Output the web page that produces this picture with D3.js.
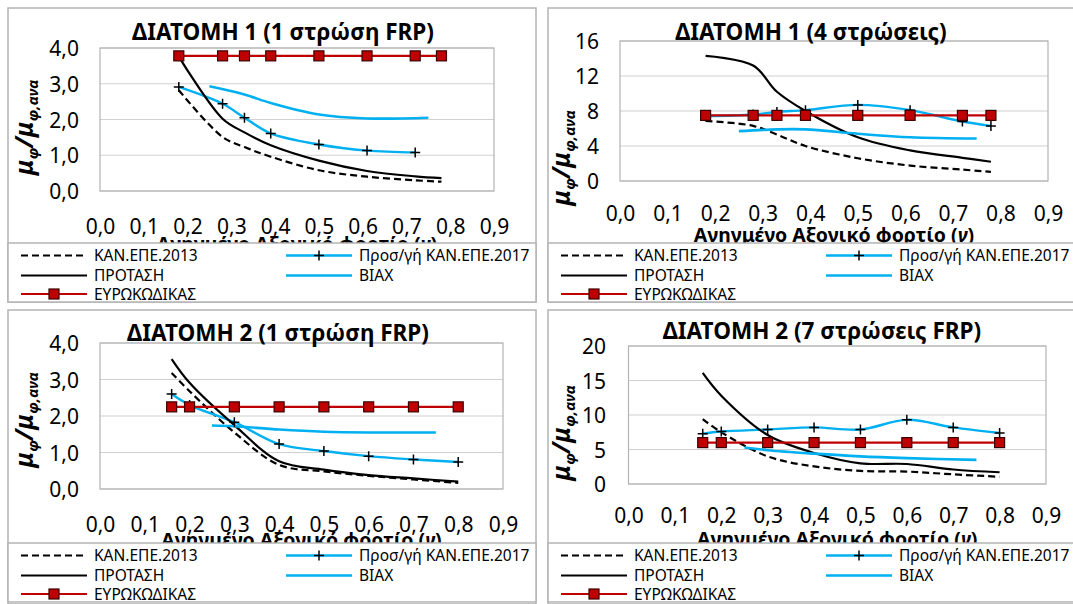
<!DOCTYPE html>
<html>
<head>
<meta charset="utf-8">
<script src="https://cdn.jsdelivr.net/npm/d3@7/dist/d3.min.js"></script>
<style>
  body { margin: 0; background: #fff; }
  svg { display: block; font-family: "Noto Sans", sans-serif; }
</style>
</head>
<body>
<div id="vis"></div>
<script>
// ---------------- datos ----------------
const SERIES_NAMES = ["ΚΑΝ.ΕΠΕ.2013", "Προσ/γή ΚΑΝ.ΕΠΕ.2017", "ΠΡΟΤΑΣΗ", "ΒΙΑΧ", "ΕΥΡΩΚΩΔΙΚΑΣ"];
const TITLES = ["ΔΙΑΤΟΜΗ 1 (1 στρώση FRP)", "ΔΙΑΤΟΜΗ 1 (4 στρώσεις)", "ΔΙΑΤΟΜΗ 2 (1 στρώση FRP)", "ΔΙΑΤΟΜΗ 2 (7 στρώσεις FRP)"];
const X_TITLE = "Ανηγμένο Αξονικό φορτίο (";
const X_TICKS = [0, 0.1, 0.2, 0.3, 0.4, 0.5, 0.6, 0.7, 0.8, 0.9];

// axonika fortia
const NU_SEC1 = [0.18, 0.28, 0.33, 0.39, 0.5, 0.61, 0.72, 0.78];
const NU_SEC2 = [0.16, 0.2, 0.3, 0.4, 0.5, 0.6, 0.7, 0.8];
const NU_BIAX1 = [0.25, 0.33, 0.39, 0.5, 0.61, 0.75];
const NU_BIAX2 = [0.25, 0.3, 0.4, 0.5, 0.6, 0.75];

// diatomi 1, 1 strosi
const KAN13_P1 = [2.82, 1.51, 1.23, 0.96, 0.58, 0.40, 0.30, 0.26];
const KAN17_P1 = [2.91, 2.44, 2.05, 1.61, 1.30, 1.13, 1.08];
const PROT_P1 = [3.76, 2.02, 1.64, 1.28, 0.85, 0.56, 0.41, 0.36];
const BIAX_P1 = [2.93, 2.70, 2.46, 2.14, 2.03, 2.05];
const EURO_P1 = [3.78, 3.78, 3.78, 3.78, 3.78, 3.78, 3.78, 3.78];

// diatomi 1, 4 stroseis
const KAN13_P2 = [6.86, 6.30, 5.30, 4.00, 2.60, 1.76, 1.30, 1.05];
const KAN17_P2 = [7.40, 7.60, 7.90, 8.10, 8.70, 8.10, 6.80, 6.30];
const PROT_P2 = [14.3, 13.2, 10.2, 8.0, 5.0, 3.5, 2.65, 2.2];
const BIAX_P2 = [5.70, 5.90, 5.90, 5.40, 5.00, 4.85];
const EURO_P2 = [7.5, 7.5, 7.5, 7.5, 7.5, 7.5, 7.5, 7.5];

// diatomi 2, 1 strosi
const KAN13_P3 = [3.18, 2.68, 1.55, 0.66, 0.48, 0.36, 0.26, 0.17];
const KAN17_P3 = [2.60, 2.30, 1.83, 1.23, 1.04, 0.90, 0.81, 0.74];
const PROT_P3 = [3.56, 2.91, 1.75, 0.76, 0.53, 0.38, 0.29, 0.20];
const BIAX_P3 = [1.74, 1.72, 1.63, 1.57, 1.55, 1.55];
const EURO_P3 = [2.25, 2.25, 2.25, 2.25, 2.25, 2.25, 2.25, 2.25];

// diatomi 2, 7 stroseis
const KAN13_P4 = [9.4, 7.5, 4.0, 2.55, 1.9, 1.8, 1.4, 1.05];
const KAN17_P4 = [7.3, 7.6, 7.9, 8.2, 7.9, 9.3, 8.2, 7.4];
const PROT_P4 = [16.1, 12.8, 7.1, 4.5, 3.0, 2.9, 2.1, 1.7];
const BIAX_P4 = [5.3, 4.9, 4.4, 4.0, 3.75, 3.5];
const EURO_P4 = [6, 6, 6, 6, 6, 6, 6, 6];

const Y_TICKS = [[0, 1, 2, 3, 4], [0, 4, 8, 12, 16], [0, 1, 2, 3, 4], [0, 5, 10, 15, 20]];
const Y_DECIMALS = [1, 0, 1, 0];

// ---------------- estilo / posiciones ----------------
const COLORS = { black: "#000", blue: "#00B0F0", red: "#C00000", grid: "#D0D0D0", frame: "#B4B4B4" };

const W = 1073, H = 604;
const SVG = d3.select("#vis").append("svg").attr("width", W).attr("height", H);

// cada panel en coords relativas a su origen
const LAYOUT = [
  { ox: 8, oy: 8, plot: { l: 92, r: 486, t: 40, b: 183 }, tx: 275, ty: 31.6, xTickY: 226, xTitleY: 243, yTickX: 71, yT: [24.7, 119.5], legY: 235 },
  { ox: 548, oy: 8, plot: { l: 72, r: 500, t: 33, b: 173 }, tx: 263, ty: 32.4, xTickY: 213, xTitleY: 233.5, yTickX: 51, yT: [22, 150], legY: 235 },
  { ox: 8, oy: 310, plot: { l: 92, r: 495, t: 33, b: 179 }, tx: 270, ty: 30.6, xTickY: 222, xTitleY: 237, yTickX: 71, yT: [24.7, 110], legY: 233 },
  { ox: 548, oy: 310, plot: { l: 80.5, r: 498, t: 36, b: 174 }, tx: 274, ty: 29.4, xTickY: 212.6, xTitleY: 236, yTickX: 58, yT: [22, 123], legY: 233 },
];
const PANEL_W = 528, PANEL_H = 294, LEG_H = 59;

// tabla de series por panel
function zip(xs, ys) { return ys.map((v, i) => [xs[i], v]); }
const PANELS = [
  [zip(NU_SEC1, KAN13_P1), zip(NU_SEC1, KAN17_P1), zip(NU_SEC1, PROT_P1), zip(NU_BIAX1, BIAX_P1), zip(NU_SEC1, EURO_P1)],
  [zip(NU_SEC1, KAN13_P2), zip(NU_SEC1, KAN17_P2), zip(NU_SEC1, PROT_P2), zip(NU_BIAX1, BIAX_P2), zip(NU_SEC1, EURO_P2)],
  [zip(NU_SEC2, KAN13_P3), zip(NU_SEC2, KAN17_P3), zip(NU_SEC2, PROT_P3), zip(NU_BIAX2, BIAX_P3), zip(NU_SEC2, EURO_P3)],
  [zip(NU_SEC2, KAN13_P4), zip(NU_SEC2, KAN17_P4), zip(NU_SEC2, PROT_P4), zip(NU_BIAX2, BIAX_P4), zip(NU_SEC2, EURO_P4)],
];

const STYLES = [
  { stroke: COLORS.black, dash: "7,4", width: 2.2, marker: null },
  { stroke: COLORS.blue, dash: null, width: 2.4, marker: "plus" },
  { stroke: COLORS.black, dash: null, width: 2.2, marker: null },
  { stroke: COLORS.blue, dash: null, width: 2.6, marker: null },
  { stroke: COLORS.red, dash: null, width: 2.2, marker: "square" },
];

function fmt(dec) { return d => d3.format("." + dec + "f")(d).replace(".", ","); }

function drawMarker(g, kind, x, y) {
  if (kind === "square") {
    g.append("rect").attr("x", x - 5).attr("y", y - 5).attr("width", 10).attr("height", 10)
      .attr("fill", COLORS.red).attr("stroke", "#3a0000").attr("stroke-width", 1.2);
  } else if (kind === "plus") {
    g.append("path").attr("d", `M${x - 5},${y}H${x + 5}M${x},${y - 5}V${y + 5}`)
      .attr("stroke", "#000").attr("stroke-width", 1.5).attr("fill", "none");
  }
}

LAYOUT.forEach((L, k) => {
  const g = SVG.append("g").attr("transform", `translate(${L.ox},${L.oy})`);
  // marco del grafico
  g.append("rect").attr("x", 0).attr("y", 0).attr("width", PANEL_W).attr("height", PANEL_H)
    .attr("fill", "#fff").attr("stroke", COLORS.frame).attr("stroke-width", 1.5);

  const yt = Y_TICKS[k];
  const x = d3.scaleLinear().domain([0, 0.9]).range([L.plot.l, L.plot.r]);
  const y = d3.scaleLinear().domain([0, yt[yt.length - 1]]).range([L.plot.b, L.plot.t]);

  // grilla
  g.append("g").selectAll("line").data(yt).join("line")
    .attr("x1", L.plot.l).attr("x2", L.plot.r)
    .attr("y1", d => y(d)).attr("y2", d => y(d))
    .attr("stroke", COLORS.grid).attr("stroke-width", 1.2);
  g.append("rect").attr("x", L.plot.l).attr("y", L.plot.t)
    .attr("width", L.plot.r - L.plot.l).attr("height", L.plot.b - L.plot.t)
    .attr("fill", "none").attr("stroke", COLORS.frame).attr("stroke-width", 1.2);

  // titulo
  g.append("text").text(TITLES[k]).attr("x", L.tx).attr("y", L.ty)
    .attr("text-anchor", "middle").attr("font-weight", "bold").attr("font-size", 22.5);

  // eje Y
  const ejeY = g.append("g").attr("transform", `translate(${L.yTickX},0)`)
    .call(d3.axisLeft(y).tickValues(yt).tickSize(0).tickPadding(0).tickFormat(fmt(Y_DECIMALS[k])));
  ejeY.select(".domain").remove();
  ejeY.selectAll("text").attr("x", 0).attr("font-size", 21).attr("fill", "#000")
    .attr("font-family", "Noto Sans").attr("dy", "0.36em");

  // eje X
  const ejeX = g.append("g").attr("transform", `translate(0,${L.xTickY})`)
    .call(d3.axisBottom(x).tickValues(X_TICKS).tickSize(0).tickPadding(0).tickFormat(fmt(1)));
  ejeX.select(".domain").remove();
  ejeX.selectAll("text").attr("y", 0).attr("dy", null).attr("font-size", 21).attr("fill", "#000")
    .attr("font-family", "Noto Sans");

  // titulo eje X
  const xt = g.append("text").attr("x", (L.plot.l + L.plot.r) / 2).attr("y", L.xTitleY)
    .attr("text-anchor", "middle").attr("font-weight", "bold").attr("font-size", 19.5);
  xt.append("tspan").text(X_TITLE);
  xt.append("tspan").text("ν").attr("font-style", "italic");
  xt.append("tspan").text(")");

  // titulo eje Y
  const ytt = g.append("text").attr("transform", `translate(${L.yT[0]},${L.yT[1]}) rotate(-90)`)
    .attr("text-anchor", "middle").attr("font-weight", "bold").attr("font-style", "italic");
  ytt.append("tspan").text("μ").attr("font-size", 25);
  ytt.append("tspan").text("φ").attr("font-size", 15).attr("dy", 5);
  ytt.append("tspan").text("/").attr("font-size", 25).attr("dy", -5);
  ytt.append("tspan").text("μ").attr("font-size", 25);
  ytt.append("tspan").text("φ,ανα").attr("font-size", 15).attr("dy", 5);

  // series
  const line = d3.line().x(d => x(d[0])).y(d => y(d[1])).curve(d3.curveCatmullRom.alpha(0.5));
  const capa = g.append("g");
  PANELS[k].forEach((pts, s) => {
    const st = STYLES[s];
    capa.append("path").attr("d", line(pts)).attr("fill", "none")
      .attr("stroke", st.stroke).attr("stroke-width", st.width)
      .attr("stroke-dasharray", st.dash);
  });
  PANELS[k].forEach((pts, s) => {
    if (STYLES[s].marker) pts.forEach(p => drawMarker(capa, STYLES[s].marker, x(p[0]), y(p[1])));
  });

  // leyenda (tapa parte del titulo del eje X, como en el original)
  const leg = g.append("g").attr("transform", `translate(0,${L.legY})`);
  leg.append("rect").attr("x", 0).attr("y", 0).attr("width", PANEL_W).attr("height", LEG_H)
    .attr("fill", "#fff").attr("stroke", COLORS.frame).attr("stroke-width", 1.5);
  const slots = [[13, 12.5], [278, 12.5], [13, 32.5], [278, 32.5], [13, 51]];
  SERIES_NAMES.forEach((name, s) => {
    const [lx, ly] = slots[s];
    const st = STYLES[s];
    leg.append("line").attr("x1", lx).attr("x2", lx + 66).attr("y1", ly).attr("y2", ly)
      .attr("stroke", st.stroke).attr("stroke-width", st.width).attr("stroke-dasharray", st.dash);
    if (st.marker) drawMarker(leg, st.marker, lx + 33, ly);
    leg.append("text").text(name).attr("x", lx + 73).attr("y", ly).attr("dy", "0.36em")
      .attr("font-size", 15.5);
  });
});
</script>
</body>
</html>
